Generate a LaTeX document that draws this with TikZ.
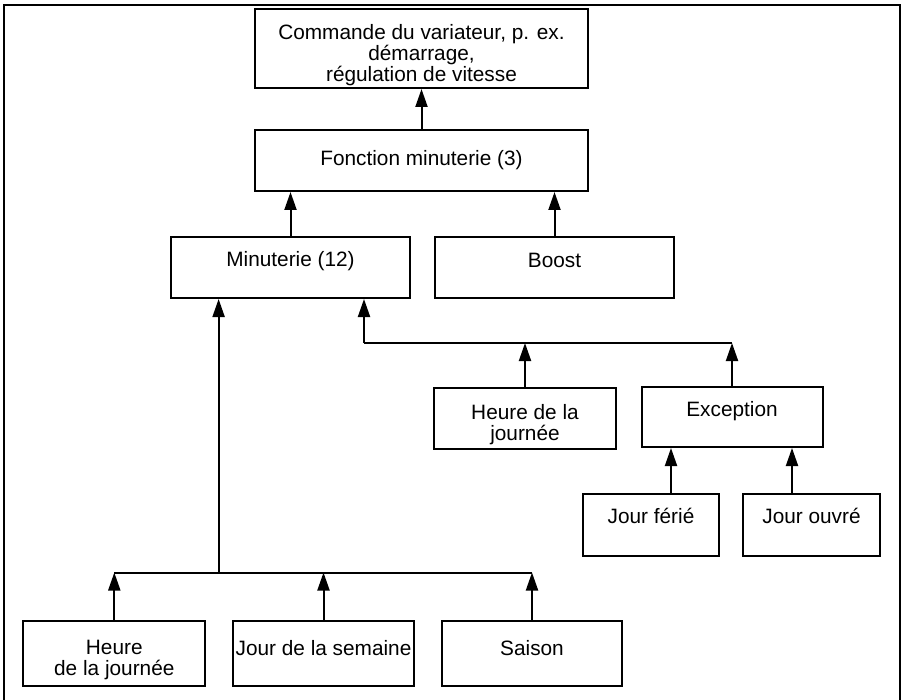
\documentclass[tikz,border=0pt]{standalone}
\usepackage{fontspec}
\setmainfont{Liberation Sans}
\usetikzlibrary{arrows.meta}
\begin{document}
\begin{tikzpicture}[x=1pt,y=-1pt,
  bx/.style 2 args={draw, line width=2pt, minimum width=#1, minimum height=#2, inner sep=0pt},
  lbl/.style={font=\fontsize{20.8}{20.8}\selectfont, align=center, inner sep=0pt},
  one/.style={lbl, text height=14.9pt, text depth=0pt},
  arr/.style={line width=2pt, -{Triangle[length=18pt,width=12pt]}},
  ln/.style={line width=2pt}]
\useasboundingbox (0,0) rectangle (901,700);
\draw[line width=1.2pt] (4,700) -- (4,5) -- (900,5) -- (900,700);

% boxes
\node[bx={333pt}{79pt}] (cmd) at (421.5,48.5) {};
\node[bx={333pt}{61pt}] (fm) at (421.5,160.5) {};
\node[bx={239pt}{61pt}] (mi) at (290.5,267.5) {};
\node[bx={239pt}{61pt}] (bo) at (554.5,267.5) {};
\node[bx={182pt}{61pt}] (h2) at (525,418.5) {};
\node[bx={181pt}{60pt}] (ex) at (732,417) {};
\node[bx={136pt}{62pt}] (jf) at (651,525) {};
\node[bx={137pt}{62pt}] (jo) at (811.5,525) {};
\node[bx={182pt}{65pt}] (h1) at (114.3,653.7) {};
\node[bx={181pt}{65pt}] (js) at (323.5,653.7) {};
\node[bx={180pt}{65pt}] (sa) at (532,653.7) {};

% texts
\node[lbl] (tcmd) at ([yshift=-6.5pt]cmd.center) {Commande du variateur, p. ex.\\d\'emarrage,\\r\'egulation de vitesse};
\node[one] (tfm) at ([yshift=2.5pt]fm.center) {Fonction minuterie (3)};
\node[one] (tmi) at ([yshift=8pt]mi.center) {Minuterie (12)};
\node[one] (tbo) at ([yshift=7.5pt]bo.center) {Boost};
\node[lbl] (th2) at ([yshift=-6.5pt]h2.center) {Heure de la\\journ\'ee};
\node[one] (tex) at ([yshift=7.5pt]ex.center) {Exception};
\node[one] (tjf) at ([yshift=8.5pt]jf.center) {Jour f\'eri\'e};
\node[one] (tjo) at ([yshift=8.5pt]jo.center) {Jour ouvr\'e};
\node[lbl] (th1) at ([yshift=-6pt]h1.center) {Heure\\de la journ\'ee};
\node[one] (tjs) at ([yshift=5.2pt]js.center) {Jour de la semaine};
\node[one] (tsa) at ([yshift=5.2pt]sa.center) {Saison};

% connectors
\draw[arr] (fm.north) -- (cmd.south);
\draw[arr] (mi.north) -- (mi.north |- fm.south);
\draw[arr] (bo.north) -- (bo.north |- fm.south);

\coordinate (j2) at (364,343);
\draw[ln] (j2) -- (ex.north |- j2);
\draw[arr] (j2) -- (j2 |- mi.south);
\draw[arr] (h2.north) -- (h2.north |- j2);
\draw[arr] (ex.north) -- (ex.north |- j2);

\coordinate (a1) at ([xshift=20pt]jf.north);
\coordinate (a2) at ([xshift=-19.5pt]jo.north);
\draw[arr] (a1) -- (a1 |- ex.south);
\draw[arr] (a2) -- (a2 |- ex.south);

\coordinate (j1) at (218.6,572.5);
\draw[ln] (h1.north |- j1) -- (sa.north |- j1);
\draw[arr] (j1) -- (j1 |- mi.south);
\draw[arr] (h1.north) -- (h1.north |- j1);
\draw[arr] (js.north) -- (js.north |- j1);
\draw[arr] (sa.north) -- (sa.north |- j1);
\end{tikzpicture}
\end{document}
